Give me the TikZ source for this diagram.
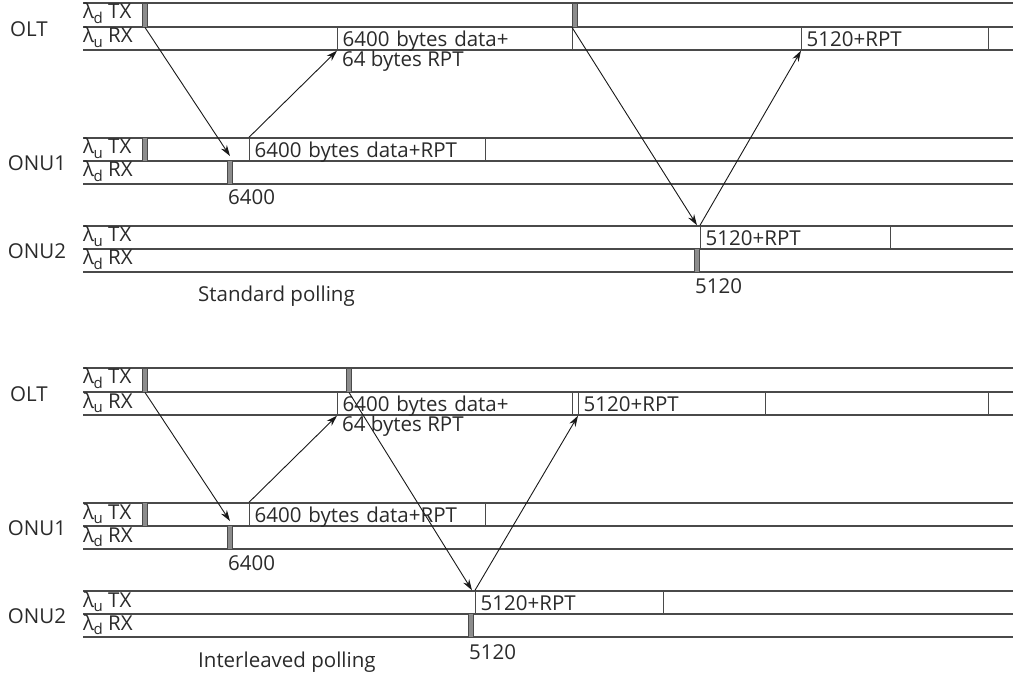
\documentclass[tikz,border=0pt]{standalone}
\usepackage{fontspec}
\setmainfont{Open Sans}
\usetikzlibrary{arrows.meta, positioning}
\definecolor{linegray}{HTML}{4A4A4A}
\definecolor{bargray}{HTML}{8C8C8C}
\definecolor{inkgray}{HTML}{2A2A2A}

\newcommand{\lblfont}{\fontsize{20.5}{22}\selectfont}
% wavelength with a low, large subscript
\newcommand{\wl}[1]{λ\kern-0.5pt\raisebox{-4.5pt}{\fontsize{15}{15}\selectfont #1}}

\tikzset{
  lane/.style={draw=linegray, line width=1.6pt},
  grant/.style={draw=linegray, fill=bargray, line width=0.9pt,
    minimum width=5pt, minimum height=24pt, inner sep=0pt},
  slot/.style={draw=linegray, line width=1.4pt, anchor=west,
    inner xsep=5pt, inner ysep=1pt, text height=18.5pt, text depth=2.5pt,
    text width=#1pt, align=left, font=\lblfont, text=inkgray},
  txt/.style={anchor=base west, inner sep=0pt, font=\lblfont, text=inkgray},
  station/.style={inner sep=0pt, font=\lblfont, text=inkgray},
  msg/.style={-{Stealth[length=11pt, width=7pt]}, line width=0.9pt, draw=black!90},
}

\begin{document}
\begin{tikzpicture}[x=1pt, y=-1pt]
\useasboundingbox (0,0) rectangle (1013,679);

% both timing charts share the lanes and the first grant/report
\foreach \dy/\pf in {0/s, 365/i} {
  \foreach \y in {3, 27, 50, 138, 161, 184, 226, 249, 272}
    \draw[lane] (83,\y+\dy) -- (1013,\y+\dy);

  \node[station] (\pf olt) at (29,29+\dy) {OLT};
  \node[station] (\pf onua) at (37,163+\dy) {ONU1};
  \node[station] (\pf onub) at (37,251+\dy) {ONU2};

  \node[txt] (\pf oltd) at (83,19+\dy) {\wl{d} TX};
  \node[txt] (\pf oltu) at (83,43+\dy) {\wl{u} RX};
  \node[txt] (\pf onuau) at (83,154+\dy) {\wl{u} TX};
  \node[txt] (\pf onuad) at (83,177+\dy) {\wl{d} RX};
  \node[txt] (\pf onubu) at (83,242+\dy) {\wl{u} TX};
  \node[txt] (\pf onubd) at (83,265+\dy) {\wl{d} RX};

  % grant to ONU1 and its upstream burst
  \node[grant] (\pf gnt) at (145,15+\dy) {};
  \node[grant] (\pf utx) at (145,149.5+\dy) {};
  \node[grant] (\pf drx) at (230,172.5+\dy) {};
  \node[txt] (\pf dlen) at (228,205+\dy) {6400};
  \node[slot=226] (\pf udata) at (249,149.5+\dy) {6400 bytes data+RPT};
  \node[slot=225] (\pf rxdata) at (337,38.5+\dy) {6400 bytes data+};
  \node[txt] (\pf rpt) at (342,66.5+\dy) {64 bytes RPT};

  \draw[msg] (\pf gnt.south) -- ([yshift=4pt]\pf drx.north);
  \draw[msg] (\pf udata.north west) -- (\pf rxdata.south west);
}

% standard polling: ONU2 granted after the report arrives
\node[grant] (sgnt2) at (575,15) {};
\node[slot=177] (srxrpt) at (801,38.5) {5120+RPT};
\node[slot=180] (srpt) at (700,237.5) {5120+RPT};
\node[grant] (sdrx2) at (697,260.5) {};
\node[txt] (slen2) at (695,294) {5120};
\node[txt] (scap) at (198,302) {Standard polling};

\draw[msg] (sgnt2.south west) -- ([xshift=-3pt]srpt.north west);
\draw[msg] (srpt.north west) -- (srxrpt.south west);

% interleaved polling: ONU2 granted while ONU1 still sends
\node[grant] (ignt2) at (349,380) {};
\node[slot=177] (irxrpt) at (578,403.5) {5120+RPT};
\node[slot=213] (irxidle) at (765,403.5) {};
\node[slot=178] (irpt) at (475,602.5) {5120+RPT};
\node[grant] (idrx2) at (471,625.5) {};
\node[txt] (ilen2) at (469,659) {5120};
\node[txt] (icap) at (198,667) {Interleaved polling};

\draw[msg] (ignt2.south) -- ([xshift=-3pt]irpt.north west);
\draw[msg] (irpt.north west) -- (irxrpt.south west);

\end{tikzpicture}
\end{document}
